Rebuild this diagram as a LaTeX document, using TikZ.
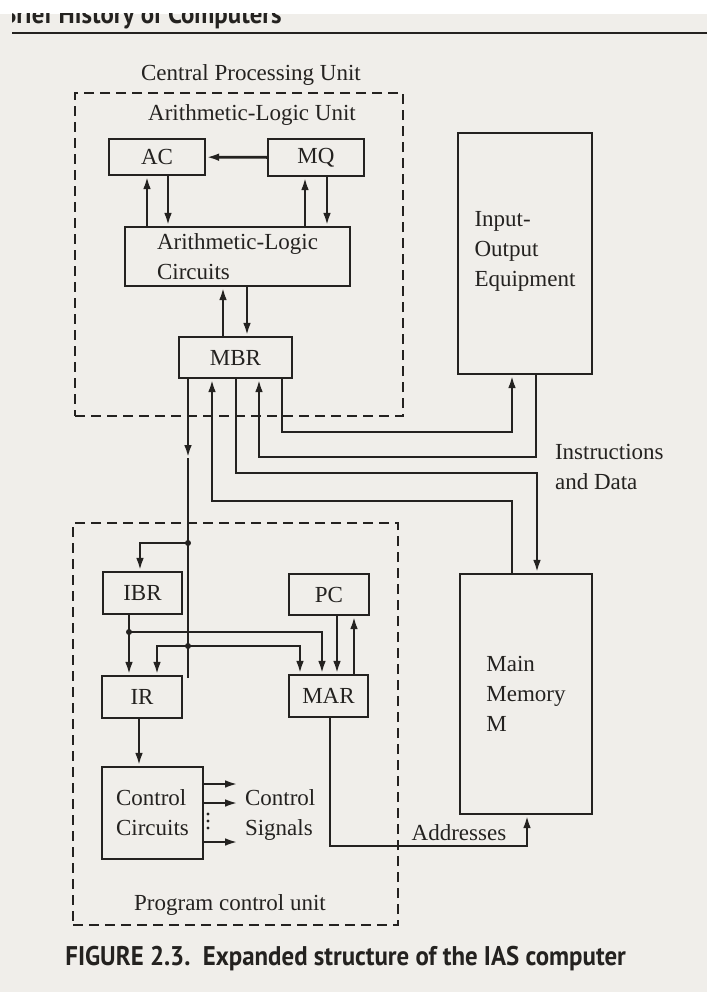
\documentclass[tikz,border=0pt]{standalone}
\usepackage{fontspec}
\setmainfont{Liberation Serif}
\newfontfamily\capfont[FakeStretch=0.92]{PT Sans}
\usetikzlibrary{arrows.meta, calc}
\definecolor{paper}{RGB}{240,238,234}
\definecolor{ink}{RGB}{36,34,32}

\begin{document}
\begin{tikzpicture}[x=0.5pt, y=-0.5pt, color=ink,
  >={Latex[length=6.5pt,width=3.8pt]},
  font=\fontsize{11.5}{15}\selectfont,
  reg/.style 2 args={draw, line width=1.1pt, minimum width=#1, minimum height=#2, inner sep=1pt},
  unit/.style 2 args={draw, line width=1pt, dash pattern=on 5pt off 3pt, minimum width=#1, minimum height=#2, inner sep=0pt},
  bus/.style={draw, line width=1.4pt},
  capstyle/.style={inner sep=0pt, font=\capfont\bfseries\fontsize{13.5}{14}\selectfont}]
  \useasboundingbox (0,0) rectangle (707,992);
  \fill[paper] (0,0) rectangle (707,992);
  \fill[white] (0,0) rectangle (707,13.5);
  % running head, cut by the page edge
  \begin{scope}
    \clip (12,13.5) rectangle (707,40);
    \node[capstyle, anchor=base east] (header) at (282,23) {Brief History of Computers};
  \end{scope}
  \draw[line width=1.4pt] (12,33) -- (707,33);

  % the two dashed units
  \node[unit={164pt}{161.5pt}] (CPU) at (239,254.5) {};
  \node[unit={162.5pt}{201pt}] (PCU) at (235.5,724) {};
  \node (cpuLabel) at (251,75) {Central Processing Unit};
  \node (aluLabel) at (252,115) {Arithmetic-Logic Unit};
  \node (pcuLabel) at (230,905) {Program control unit};

  % registers and blocks
  \node[reg={48pt}{18pt}] (AC) at (157,157) {AC};
  \node[reg={48pt}{18.5pt}] (MQ) at (316,157.5) {MQ};
  \node[reg={112.5pt}{29.5pt}, align=left] (ALC) at (237.5,256.5) {Arithmetic-Logic\\Circuits};
  \node[reg={56.5pt}{20.5pt}] (MBR) at (235.5,357.5) {MBR};
  \node[reg={67pt}{120.5pt}, align=left] (IO) at (525,253.5) {Input-\\Output\\Equipment\\[-10pt]};
  \node[reg={66pt}{120pt}, align=left] (MM) at (526,694) {Main\\Memory\\M};
  \node[reg={39.5pt}{21pt}] (IBR) at (142.5,593) {IBR};
  \node[reg={40pt}{20.5pt}] (PC) at (329,594.5) {PC};
  \node[reg={40pt}{21pt}] (IR) at (142,697) {IR};
  \node[reg={39.5pt}{21pt}] (MAR) at (328.5,696) {MAR};
  \node[reg={50.5pt}{46pt}, align=left] (CC) at (152.5,813) {Control\\Circuits};

  \node[anchor=west, align=left] (busLabel) at (548,467) {Instructions\\and Data};
  \node[anchor=west, align=left] (sigLabel) at (238,815) {Control\\Signals};
  \node (addrLabel) at (459,833) {Addresses};

  % arithmetic-logic unit
  \draw[bus,->] (MQ) -- (AC);
  \draw[bus,->] (ALC.north -| 147,0) -- (AC.south -| 147,0);
  \draw[bus,->] (AC.south -| 168,0) -- (ALC.north -| 168,0);
  \draw[bus,->] (ALC.north -| 305,0) -- (MQ.south -| 305,0);
  \draw[bus,->] (MQ.south -| 327,0) -- (ALC.north -| 327,0);
  \draw[bus,->] (MBR.north -| 223,0) -- (ALC.south -| 223,0);
  \draw[bus,->] (ALC.south -| 247,0) -- (MBR.north -| 247,0);

  % instructions and data
  \draw[bus,->] (MM.north -| 512,0) -- (512,501) -| (MBR.south -| 212,0);
  \draw[bus,->] (MBR.south -| 236,0) -- (236,473) -| (MM.north -| 537,0);
  \draw[bus,->] (IO.south -| 536,0) -- (536,457) -| (MBR.south -| 259,0);
  \draw[bus,->] (MBR.south -| 282,0) -- (282,432) -| (IO.south -| 512,0);

  % program control unit
  \coordinate (mbrDown) at (188,458);
  \coordinate (jIBR) at (188,543);
  \coordinate (jIR) at (188,646);
  \coordinate (busEnd) at (188,678);
  \coordinate (jIBRout) at (129,632);
  \draw[bus,->] (MBR.south -| 188,0) -- (mbrDown);
  \draw[bus] (mbrDown) -- (busEnd);
  \draw[bus,->] (jIBR) -| (IBR.north -| 140,0);
  \draw[bus,->] (IBR.south -| 129,0) -- (IR.north -| 129,0);
  \draw[bus,->] (jIBRout) -| (MAR.north -| 322,0);
  \draw[bus,->] (jIR) -| (IR.north -| 157,0);
  \draw[bus,->] (jIR) -| (MAR.north -| 300,0);
  \draw[bus,->] (PC.south -| 337,0) -- (MAR.north -| 337,0);
  \draw[bus,->] (MAR.north -| 354,0) -- (PC.south -| 354,0);
  \foreach \j in {jIBR,jIR,jIBRout}
    \fill (\j) circle (1.5pt);
  \draw[bus,->] (IR.south -| 139,0) -- (CC.north -| 139,0);
  \foreach \y in {784,803,842}
    \draw[bus,->] (CC.east |- 0,\y) -- ++(34,0);
  \foreach \y in {814,821,828}
    \fill (208,\y) circle (0.8pt);

  % addresses
  \draw[bus,->] (MAR.south -| 330,0) -- (330,846) -| (MM.south -| 527,0);

  \node[capstyle, anchor=base west] (caption) at (65,965) {FIGURE 2.3.\ \ Expanded structure of the IAS computer};
\end{tikzpicture}
\end{document}
